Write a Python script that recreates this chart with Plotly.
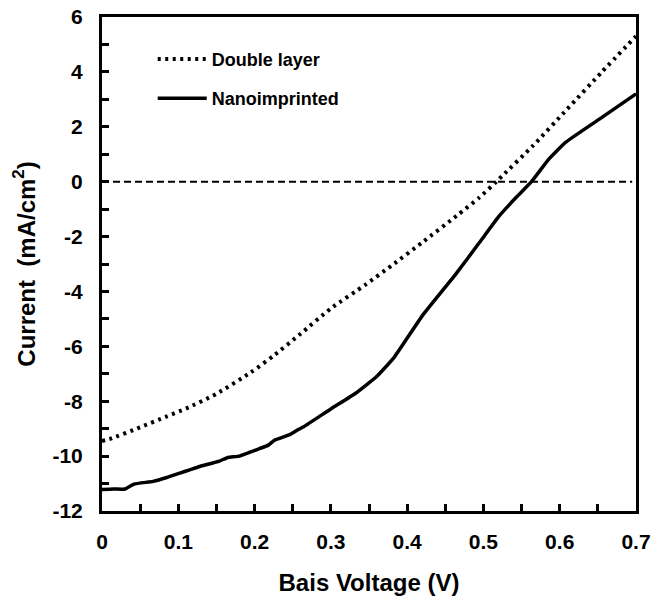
import plotly.graph_objects as go

# Double layer (dotted)
v_double = [0, 0.01, 0.05, 0.085, 0.11, 0.15, 0.195, 0.225, 0.26, 0.30, 0.345, 0.38,
            0.42, 0.465, 0.495, 0.517, 0.525, 0.565, 0.61, 0.655, 0.70]
i_double = [-9.45, -9.38, -8.95, -8.55, -8.27, -7.73, -6.95, -6.34, -5.55, -4.62, -3.76, -3.05,
            -2.21, -1.24, -0.57, 0.0, 0.22, 1.31, 2.65, 3.99, 5.3]

# Nanoimprinted (solid)
v_nano = [0, 0.015, 0.03, 0.042, 0.067, 0.085, 0.102, 0.115, 0.128, 0.154, 0.165, 0.18,
          0.207, 0.218, 0.226, 0.246, 0.258, 0.265, 0.30, 0.333, 0.36, 0.383, 0.42, 0.464,
          0.495, 0.521, 0.543, 0.563, 0.586, 0.608, 0.652, 0.70]
i_nano = [-11.22, -11.2, -11.2, -11.02, -10.92, -10.78, -10.62, -10.5, -10.38, -10.18, -10.05, -10.0,
          -9.72, -9.6, -9.42, -9.22, -9.02, -8.92, -8.28, -7.7, -7.1, -6.4, -4.88, -3.36,
          -2.21, -1.24, -0.57, 0.0, 0.83, 1.44, 2.28, 3.2]

# zero reference line
v_zero = [0, 0.695]
i_zero = [0, 0]

x_ticks = [0, 0.1, 0.2, 0.3, 0.4, 0.5, 0.6, 0.7]
x_labels = ["0", "0.1", "0.2", "0.3", "0.4", "0.5", "0.6", "0.7"]
y_ticks = [-12, -10, -8, -6, -4, -2, 0, 2, 4, 6]
y_labels = ["-12", "-10", "-8", "-6", "-4", "-2", "0", "2", "4", "6"]

FONT = "Liberation Sans, Arial, sans-serif"

fig = go.Figure()
fig.add_trace(go.Scatter(x=v_zero, y=i_zero, mode="lines", showlegend=False,
                         line=dict(color="black", width=2, dash="7px,4px"), hoverinfo="skip"))
fig.add_trace(go.Scatter(x=v_double, y=i_double, mode="lines", name="Double layer",
                         legendgroup="a",
                         line=dict(color="black", width=4, dash="3px,4.5px", shape="spline", smoothing=0.6)))
fig.add_trace(go.Scatter(x=v_nano, y=i_nano, mode="lines", name="Nanoimprinted",
                         legendgroup="b",
                         line=dict(color="black", width=3.5, shape="spline", smoothing=0.4)))

fig.update_layout(
    width=654, height=600,
    margin=dict(l=102, r=18, t=17, b=89),
    paper_bgcolor="white", plot_bgcolor="white",
    font=dict(family=FONT, color="black", size=21, weight="bold"),
    legend=dict(x=0.095, y=0.952, xanchor="left", yanchor="top",
                bgcolor="rgba(0,0,0,0)", font=dict(size=18, family=FONT, weight="bold"),
                tracegroupgap=13, traceorder="grouped", itemwidth=49),
    xaxis=dict(range=[0, 0.7], tickvals=x_ticks, ticktext=x_labels, automargin=False,
               ticks="inside", ticklen=7, tickwidth=2.5, tickcolor="black",
               minor=dict(dtick=0.05, ticks="inside", ticklen=7, tickwidth=2.5, tickcolor="black"),
               showline=True, linewidth=3, linecolor="black", mirror=True,
               showgrid=False, zeroline=False, ticklabelstandoff=10,
               title=dict(text="Bais Voltage (V)", font=dict(size=24, family=FONT, weight="bold"), standoff=22)),
    yaxis=dict(range=[-12, 6], tickvals=y_ticks, ticktext=y_labels, automargin=False,
               ticks="inside", ticklen=7, tickwidth=2.5, tickcolor="black",
               minor=dict(dtick=1, ticks="inside", ticklen=7, tickwidth=2.5, tickcolor="black"),
               showline=True, linewidth=3, linecolor="black", mirror=True,
               showgrid=False, zeroline=False, ticklabelstandoff=12,
               title=dict(text="Current  (mA/cm<sup>2</sup>)", font=dict(size=24, family=FONT, weight="bold"), standoff=11)),
)

fig.write_html("out.html", config={"displayModeBar": False},
               post_script="document.body.style.margin='0';")
